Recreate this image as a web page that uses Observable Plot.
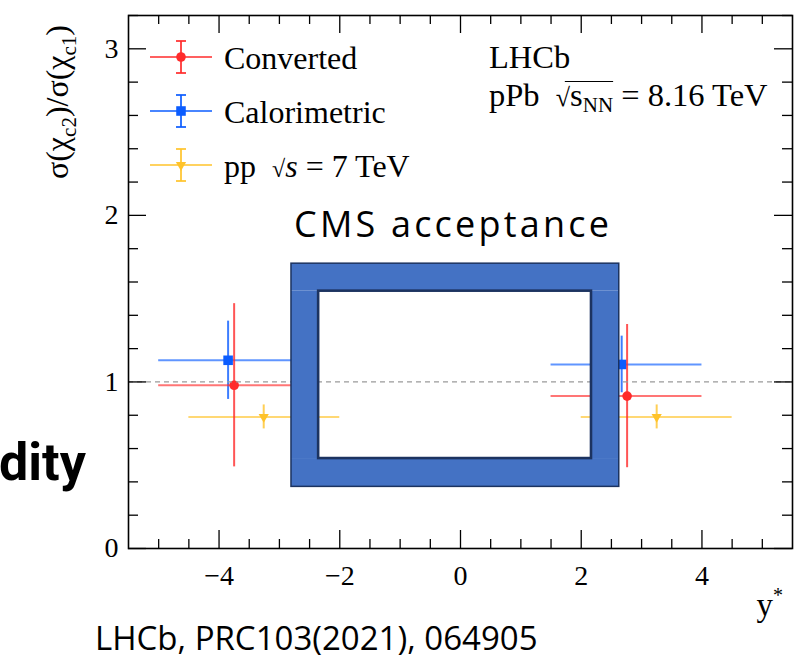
<!DOCTYPE html>
<html>
<head>
<meta charset="utf-8">
<script src="https://cdn.jsdelivr.net/npm/d3@7"></script>
<script src="https://cdn.jsdelivr.net/npm/@observablehq/plot@0.6"></script>
<style>
  html, body { margin: 0; padding: 0; background: #fff; }
  #fig { position: relative; width: 794px; height: 663px; overflow: hidden; background: #fff; }
  #fig svg { position: absolute; left: 0; top: 0; }
  .slide { position: absolute; white-space: nowrap; color: #000; line-height: 1; }
</style>
</head>
<body>
<div id="fig"></div>
<script>
// chi_c2 / chi_c1 cross-section ratio vs rapidity y*, LHCb pPb at 8.16 TeV
const seriesNames = ["Converted", "Calorimetric", "pp"];

// Converted photons
const convX = [-3.75, 2.76];
const convY = [0.98, 0.915];
const convErr = [0.49, 0.43];
const convBinLo = [-5.0, 1.5];
const convBinHi = [-2.5, 4.0];

// Calorimetric photons
const caloX = [-3.85, 2.67];
const caloY = [1.13, 1.105];
const caloErr = [0.235, 0.17];
const caloBinLo = [-5.0, 1.5];
const caloBinHi = [-2.5, 4.0];

// pp at sqrt(s) = 7 TeV
const ppX = [-3.26, 3.25];
const ppY = [0.79, 0.79];
const ppErr = [0.072, 0.072];
const ppBinLo = [-4.5, 2.0];
const ppBinHi = [-2.0, 4.5];

// CMS acceptance frame: [left, right, bottom, top] in (y*, ratio) units
const cmsOuter = [-2.80, 2.63, 0.37, 1.71];
const cmsInner = [-2.35, 2.17, 0.54, 1.545];

// axis ticks
const xMajorTicks = [-4, -2, 0, 2, 4];
const xMinorTicks = d3.range(-10, 11).map(i => i / 2).filter(v => !xMajorTicks.includes(v));
const yMajorTicks = [0, 1, 2, 3];
const yMinorTicks = d3.range(0, 17).map(i => +(i * 0.2).toFixed(1)).filter(v => !yMajorTicks.includes(v));

const RED = "#ff2b2b", BLUE = "#0b5cff", YELLOW = "#ffc32a";
const CMS_FILL = "#4472c4", CMS_EDGE = "#1c3360";
const SERIF = "'Liberation Serif', 'Times New Roman', serif";

const W = 794, H = 663;
const M = {top: 15, right: 2, bottom: 115, left: 128};
const frameW = W - M.left - M.right, frameH = H - M.top - M.bottom;
const MAJOR = 18, MINOR = 9;

const toRows = (X, Y, E, lo, hi) => X.map((x, i) => ({x, y: Y[i], e: E[i], lo: lo[i], hi: hi[i]}));
const series = [
  {name: seriesNames[2], rows: toRows(ppX, ppY, ppErr, ppBinLo, ppBinHi), color: YELLOW, symbol: "triangle", r: 3.8, rotate: 180},
  {name: seriesNames[1], rows: toRows(caloX, caloY, caloErr, caloBinLo, caloBinHi), color: BLUE, symbol: "square", r: 5.4, rotate: 0},
  {name: seriesNames[0], rows: toRows(convX, convY, convErr, convBinLo, convBinHi), color: RED, symbol: "circle", r: 4.8, rotate: 0}
];

const dataMarks = series.flatMap(s => [
  Plot.ruleY(s.rows, {y: "y", x1: "lo", x2: "hi", stroke: s.color, strokeWidth: 2, strokeOpacity: 0.65}),
  Plot.ruleX(s.rows, {x: "x", y1: d => d.y - d.e, y2: d => d.y + d.e, stroke: s.color, strokeWidth: 2, strokeOpacity: 0.8}),
  Plot.dot(s.rows, {x: "x", y: "y", symbol: s.symbol, r: s.r, rotate: s.rotate, fill: s.color, stroke: "none"})
]);

// the CMS frame as four bands between the outer and inner rectangles
const [oL, oR, oB, oT] = cmsOuter;
const [iL, iR, iB, iT] = cmsInner;
const cmsBands = [
  {x1: oL, x2: oR, y1: iT, y2: oT},
  {x1: oL, x2: oR, y1: oB, y2: iB},
  {x1: oL, x2: iL, y1: iB, y2: iT},
  {x1: iR, x2: oR, y1: iB, y2: iT}
];

const fmt = d => d < 0 ? "\u2212" + Math.abs(d) : String(d);
const tick = {stroke: "#000", strokeWidth: 1.3};

const plot = Plot.plot({
  width: W,
  height: H,
  marginLeft: M.left,
  marginRight: M.right,
  marginTop: M.top,
  marginBottom: M.bottom,
  x: {domain: [-5.5, 5.5]},
  y: {domain: [0, 3.2]},
  marks: [
    ...dataMarks,
    Plot.ruleY([1], {stroke: "#9a9a9a", strokeWidth: 1.3, strokeDasharray: "5,4"}),
    Plot.rect(cmsBands, {x1: "x1", x2: "x2", y1: "y1", y2: "y2", fill: CMS_FILL}),
    Plot.rect([{x1: oL, x2: oR, y1: oB, y2: oT}], {x1: "x1", x2: "x2", y1: "y1", y2: "y2", fill: "none", stroke: CMS_EDGE, strokeWidth: 1.5}),
    Plot.rect([{x1: iL, x2: iR, y1: iB, y2: iT}], {x1: "x1", x2: "x2", y1: "y1", y2: "y2", fill: "none", stroke: CMS_EDGE, strokeWidth: 2.6}),
    // inward ticks on all four sides
    Plot.ruleX(xMajorTicks, {...tick, insetTop: frameH - MAJOR}),
    Plot.ruleX(xMinorTicks, {...tick, insetTop: frameH - MINOR}),
    Plot.ruleX(xMajorTicks, {...tick, insetBottom: frameH - MAJOR}),
    Plot.ruleX(xMinorTicks, {...tick, insetBottom: frameH - MINOR}),
    Plot.ruleY(yMajorTicks, {...tick, insetRight: frameW - MAJOR}),
    Plot.ruleY(yMinorTicks, {...tick, insetRight: frameW - MINOR - 1}),
    Plot.ruleY(yMajorTicks, {...tick, insetLeft: frameW - MAJOR}),
    Plot.ruleY(yMinorTicks, {...tick, insetLeft: frameW - MINOR - 1}),
    // tick labels
    Plot.axisX(xMajorTicks, {anchor: "bottom", tickSize: 0, tickPadding: 17, tickFormat: fmt, fontSize: 28, fontFamily: SERIF, label: null}),
    Plot.axisY(yMajorTicks, {anchor: "left", tickSize: 0, tickPadding: 10, tickFormat: fmt, fontSize: 28, fontFamily: SERIF, label: null}),
    Plot.frame({stroke: "#000", strokeWidth: 1.6})
  ]
});

const fig = document.getElementById("fig");
fig.appendChild(plot);
const svg = d3.select(plot);

// y-axis title: sigma(chi_c2)/sigma(chi_c1)
const yTitle = svg.append("text")
  .attr("transform", "translate(68,102) rotate(-90)")
  .attr("text-anchor", "middle")
  .attr("font-family", SERIF)
  .attr("font-size", 32);
yTitle.append("tspan").text("σ(χ");
yTitle.append("tspan").attr("font-size", 21).attr("dy", 8).text("c2");
yTitle.append("tspan").attr("dy", -8).text(")/σ(χ");
yTitle.append("tspan").attr("font-size", 21).attr("dy", 8).text("c1");
yTitle.append("tspan").attr("dy", -8).text(")");

// x-axis title: y*
const xTitle = svg.append("text")
  .attr("x", 783).attr("y", 616)
  .attr("text-anchor", "end")
  .attr("font-family", SERIF)
  .attr("font-size", 33);
xTitle.append("tspan").text("y");
xTitle.append("tspan").attr("font-size", 20).attr("dy", -14).text("*");

// legend
const legendSymbols = {circle: d3.symbolCircle, square: d3.symbolSquare, triangle: d3.symbolTriangle};
const legendOrder = [series[2], series[1], series[0]];
const lg = svg.append("g").attr("transform", "translate(181,57)");
legendOrder.forEach((s, i) => {
  const g = lg.append("g").attr("transform", `translate(0,${i * 54})`);
  g.append("line").attr("x1", -31).attr("x2", 31).attr("stroke", s.color).attr("stroke-width", 2).attr("stroke-opacity", 0.75);
  g.append("line").attr("y1", -16).attr("y2", 16).attr("stroke", s.color).attr("stroke-width", 2).attr("stroke-opacity", 0.85);
  [-16, 16].forEach(cy => g.append("line").attr("x1", -5).attr("x2", 5).attr("y1", cy).attr("y2", cy)
    .attr("stroke", s.color).attr("stroke-width", 2).attr("stroke-opacity", 0.85));
  g.append("path")
    .attr("d", d3.symbol(legendSymbols[s.symbol], Math.PI * s.r * s.r)())
    .attr("transform", s.rotate ? `rotate(${s.rotate})` : null)
    .attr("fill", s.color);
  const t = g.append("text").attr("x", 43).attr("y", 12).attr("text-anchor", "start")
    .attr("font-family", SERIF).attr("font-size", 32);
  if (s.name === "pp") {
    t.append("tspan").text("pp\u00a0\u00a0");
    t.append("tspan").attr("font-size", 24).text("√");
    t.append("tspan").attr("font-style", "italic").text("s");
    t.append("tspan").text(" = 7 TeV");
  } else {
    t.text(s.name);
  }
});

// experiment label
svg.append("text").attr("x", 489).attr("y", 68).attr("text-anchor", "start")
  .attr("font-family", SERIF).attr("font-size", 32.5).text("LHCb");
const sys = svg.append("text").attr("x", 489).attr("y", 106).attr("text-anchor", "start")
  .attr("font-family", SERIF).attr("font-size", 32.5);
sys.append("tspan").text("pPb\u00a0\u00a0");
sys.append("tspan").attr("font-size", 26).text("√");
sys.append("tspan").text("s");
sys.append("tspan").attr("font-size", 21).attr("dy", 6).text("NN");
sys.append("tspan").attr("dy", -6).text(" = 8.16 TeV");
// overbar of the square root over s_NN
{
  const node = sys.node();
  const full = node.textContent;
  const a = full.indexOf("√");
  const b = full.indexOf("NN") + 1;
  const x0 = node.getStartPositionOfChar(a).x + 9;
  const x1 = node.getEndPositionOfChar(b).x;
  svg.append("line").attr("x1", x0).attr("x2", x1).attr("y1", 81.5).attr("y2", 81.5)
    .attr("stroke", "#000").attr("stroke-width", 1.2);
}

// slide annotations around the figure
const addNote = (text, css) => {
  const d = document.createElement("div");
  d.className = "slide";
  d.textContent = text;
  Object.assign(d.style, css);
  fig.appendChild(d);
};
addNote("CMS acceptance", {left: "294px", top: "206px", fontFamily: "'Open Sans', sans-serif", fontSize: "36px", letterSpacing: "3.2px"});
addNote("dity", {left: "-1px", top: "437px", fontFamily: "Roboto, sans-serif", fontWeight: "700", fontSize: "52px"});
addNote("LHCb, PRC103(2021), 064905", {left: "95px", top: "621px", fontFamily: "'Open Sans', sans-serif", fontSize: "33px"});
</script>
</body>
</html>
